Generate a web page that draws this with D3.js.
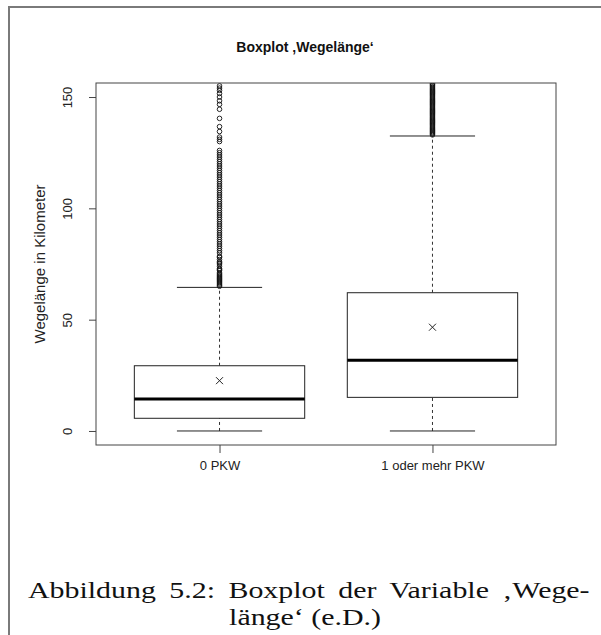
<!DOCTYPE html>
<html>
<head>
<meta charset="utf-8">
<script src="https://cdnjs.cloudflare.com/ajax/libs/d3/7.8.5/d3.min.js"></script>
<style>
  body { margin: 0; background: #fff; }
  svg { display: block; }
  .axis text { font-family: "Liberation Sans", Arial, sans-serif; font-size: 13px; fill: #222; }
  .axis path, .axis line { stroke: #444; }
</style>
</head>
<body>
<div id="chart"></div>
<script>
// groups and summary statistics (km)
const groups = ["0 PKW", "1 oder mehr PKW"];
const lowerWhisker = [0, 0];
const q1 = [5.7, 15.1];
const median = [14.4, 31.8];
const q3 = [29.3, 62.1];
const upperWhisker = [64.5, 132.5];
const means = [22.6, 46.6];
const yTicks = [0, 50, 100, 150];

// outliers
const outliers0 = [65, 65.5, 66, 66.5, 67, 67.5, 68, 68.5, 69, 69.5, 70, 70.5, 71, 72, 72.5, 73, 74, 75, 75.5,
  76, 77, 78, 78.5, 80, 81, 82, 83, 84, 85, 86, 87, 88, 89, 90, 91, 92, 93, 94, 95, 96, 97, 98, 99, 100,
  101, 102, 103, 104, 105, 106, 107, 108, 109, 110, 111, 112, 113, 114, 115, 116, 117, 118, 119, 120,
  121, 122, 123, 124, 125, 126, 130, 131, 132, 134.5, 136.7, 140.4, 144.5, 146.7, 148.3, 150, 151.6, 153, 154, 155];
const outliers1 = [133, 133.5, 134, 134.5, 135, 135.5, 136, 136.5, 137, 137.5, 138, 138.5, 139, 139.5, 140,
  140.5, 141, 141.5, 142, 142.5, 143, 143.5, 144, 144.5, 145, 145.5, 146, 146.5, 147, 147.5, 148, 148.5,
  149, 149.5, 150, 150.5, 151, 151.5, 152, 152.5, 153, 153.5, 154, 154.5, 155, 155.5, 156, 157, 158];
const outliers = [outliers0, outliers1];

const W = 601, H = 635;
const plot = { left: 96, right: 556, top: 83, bottom: 445 };

const svg = d3.select("#chart").append("svg")
    .attr("width", W)
    .attr("height", H);

// page frame (only top and left edges visible)
svg.append("path")
    .attr("d", `M9,${H} L9,7 L${W},7`)
    .attr("fill", "none")
    .attr("stroke", "#7a7a7a")
    .attr("stroke-width", 2);

const x = d3.scaleLinear().domain([0.42, 2.58]).range([plot.left, plot.right]);
const y = d3.scaleLinear().domain([-6.3, 156.3]).range([plot.bottom, plot.top]);

svg.append("defs").append("clipPath").attr("id", "plotclip")
  .append("rect")
    .attr("x", plot.left).attr("y", plot.top)
    .attr("width", plot.right - plot.left).attr("height", plot.bottom - plot.top);

// title
svg.append("text")
    .attr("x", 305)
    .attr("y", 52)
    .attr("text-anchor", "middle")
    .style("font-family", "Liberation Sans, Arial, sans-serif")
    .style("font-weight", "bold")
    .style("font-size", "14px")
    .attr("fill", "#111")
    .text("Boxplot \u201AWegel\u00E4nge\u2018");

const boxW = 0.8, capW = 0.4;
const g = svg.append("g");

groups.forEach((name, i) => {
    const cx = x(i + 1);

    // whiskers (dashed)
    g.append("line")
        .attr("x1", cx).attr("x2", cx)
        .attr("y1", y(q3[i])).attr("y2", y(upperWhisker[i]))
        .attr("stroke", "#333").attr("stroke-dasharray", "3,3");
    g.append("line")
        .attr("x1", cx).attr("x2", cx)
        .attr("y1", y(lowerWhisker[i])).attr("y2", y(q1[i]))
        .attr("stroke", "#333").attr("stroke-dasharray", "3,3");

    // whisker caps
    [lowerWhisker[i], upperWhisker[i]].forEach(v => {
        g.append("line")
            .attr("x1", x(i + 1 - capW / 2)).attr("x2", x(i + 1 + capW / 2))
            .attr("y1", y(v)).attr("y2", y(v))
            .attr("stroke", "#222");
    });

    // box
    g.append("rect")
        .attr("x", x(i + 1 - boxW / 2))
        .attr("y", y(q3[i]))
        .attr("width", x(i + 1 + boxW / 2) - x(i + 1 - boxW / 2))
        .attr("height", y(q1[i]) - y(q3[i]))
        .attr("fill", "#fff")
        .attr("stroke", "#222");

    // median
    g.append("line")
        .attr("x1", x(i + 1 - boxW / 2)).attr("x2", x(i + 1 + boxW / 2))
        .attr("y1", y(median[i])).attr("y2", y(median[i]))
        .attr("stroke", "#000").attr("stroke-width", 3);

    // mean as "x"
    const my = y(means[i]), s = 3.5;
    g.append("path")
        .attr("d", `M${cx - s},${my - s}L${cx + s},${my + s}M${cx - s},${my + s}L${cx + s},${my - s}`)
        .attr("stroke", "#222").attr("stroke-width", 1);

    // outliers
    g.append("g").attr("clip-path", "url(#plotclip)")
      .selectAll("circle")
      .data(outliers[i])
      .join("circle")
        .attr("cx", cx)
        .attr("cy", d => y(d))
        .attr("r", 2.3)
        .attr("fill", "none")
        .attr("stroke", "#111")
        .attr("stroke-width", 0.9);
});

// plot border
svg.append("rect")
    .attr("x", plot.left).attr("y", plot.top)
    .attr("width", plot.right - plot.left).attr("height", plot.bottom - plot.top)
    .attr("fill", "none")
    .attr("stroke", "#444");

// y axis
const yAxis = svg.append("g")
    .attr("class", "axis")
    .attr("transform", `translate(${plot.left},0)`)
    .call(d3.axisLeft(y).tickValues(yTicks).tickSize(7).tickSizeOuter(0));
yAxis.select(".domain").remove();
yAxis.selectAll(".tick text")
    .attr("transform", "rotate(-90)")
    .attr("text-anchor", "middle")
    .attr("x", 0)
    .attr("y", -24)
    .attr("dy", 0);

// x axis
const xAxis = svg.append("g")
    .attr("class", "axis")
    .attr("transform", `translate(0,${plot.bottom})`)
    .call(d3.axisBottom(x).tickValues([1, 2]).tickFormat((d, i) => groups[i]).tickSize(8).tickSizeOuter(0));
xAxis.select(".domain").remove();
xAxis.selectAll(".tick text").attr("y", 25).attr("dy", 0);

// y label
svg.append("text")
    .attr("transform", `translate(45,${(plot.top + plot.bottom) / 2}) rotate(-90)`)
    .attr("text-anchor", "middle")
    .style("font-family", "Liberation Sans, Arial, sans-serif")
    .style("font-size", "15px")
    .attr("fill", "#222")
    .text("Wegelänge in Kilometer");

// caption: the serif is stretched a bit to look like the wider LaTeX font,
// first line justified to the full width
const capFont = "Liberation Serif, DejaVu Serif, serif";
const cap1 = svg.append("text")
    .style("font-family", capFont)
    .style("font-size", "23.5px")
    .attr("fill", "#111")
    .text("Abbildung 5.2: Boxplot der Variable \u201AWege-");
const natural = cap1.node().getComputedTextLength();
const gap = 6;
const sx = (562 - 5 * gap) / natural;
cap1.attr("transform", `translate(28,598) scale(${sx},1)`)
    .style("word-spacing", (gap / sx) + "px");

svg.append("text")
    .attr("transform", `translate(305,625) scale(${sx},1)`)
    .attr("text-anchor", "middle")
    .style("font-family", capFont)
    .style("font-size", "23.5px")
    .attr("fill", "#111")
    .text("länge\u2018 (e.D.)");
</script>
</body>
</html>
